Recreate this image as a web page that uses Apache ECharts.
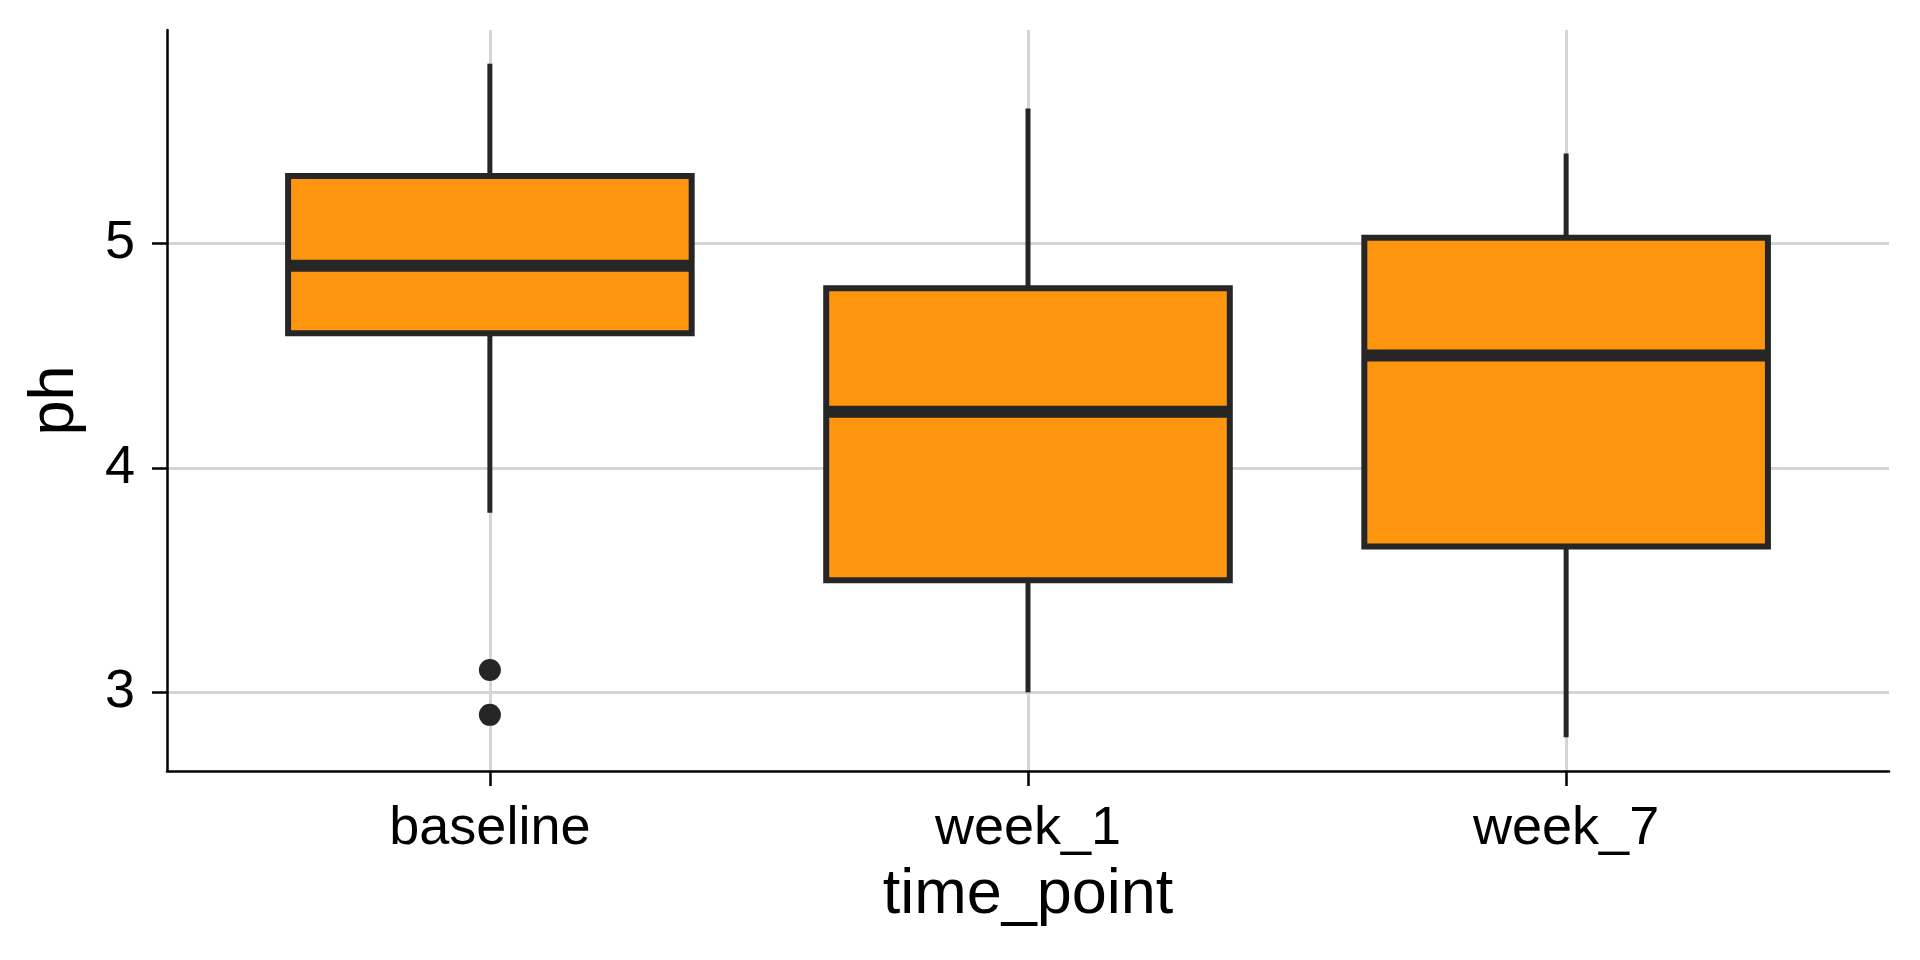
<!DOCTYPE html>
<html>
<head>
<meta charset="utf-8">
<title>ph by time_point</title>
<script src="https://cdn.jsdelivr.net/npm/echarts@6/dist/echarts.min.js"></script>
<style>
  html, body { margin: 0; padding: 0; background: #fff; }
  #chart { width: 1920px; height: 960px; }
</style>
</head>
<body>
<div id="chart"></div>
<script>
// Data
var categories = ['baseline', 'week_1', 'week_7'];
var whiskerLow = [3.8, 3.0, 2.8];
var q1 = [4.6, 3.5, 3.65];
var median = [4.9, 4.25, 4.5];
var q3 = [5.3, 4.8, 5.025];
var whiskerHigh = [5.8, 5.6, 5.4];
var outliers = [[1, 3.1], [1, 2.9]];
var yTicks = [3, 4, 5];

var LINE = '#262626';
var FILL = '#FE950F';
var GRID = '#d5d5d5';
var FONT = 'Liberation Sans, Arial, sans-serif';

document.addEventListener('DOMContentLoaded', function() {

  var chart = echarts.init(document.getElementById('chart'), null, {renderer: 'canvas'});

  // one row per box: [x, low, q1, median, q3, high]
  var boxData = categories.map(function(name, i) {
    return [i + 1, whiskerLow[i], q1[i], median[i], q3[i], whiskerHigh[i]];
  });
  var xTicks = categories.map(function(name, i) { return i + 1; });

  // box, whiskers and a thick median line, all placed through the axes
  function renderBox(params, api) {
    var x = api.value(0);
    var half = api.size([0.75, 0])[0] / 2;
    var pLow = api.coord([x, api.value(1)]);
    var pQ1 = api.coord([x, api.value(2)]);
    var pMed = api.coord([x, api.value(3)]);
    var pQ3 = api.coord([x, api.value(4)]);
    var pHigh = api.coord([x, api.value(5)]);
    return {
      type: 'group',
      children: [
        {
          type: 'line',
          shape: {x1: pQ3[0], y1: pQ3[1], x2: pHigh[0], y2: pHigh[1]},
          style: {stroke: LINE, lineWidth: 5}
        },
        {
          type: 'line',
          shape: {x1: pQ1[0], y1: pQ1[1], x2: pLow[0], y2: pLow[1]},
          style: {stroke: LINE, lineWidth: 5}
        },
        {
          type: 'rect',
          shape: {x: pQ3[0] - half, y: pQ3[1], width: half * 2, height: pQ1[1] - pQ3[1]},
          style: {fill: FILL, stroke: LINE, lineWidth: 6}
        },
        {
          type: 'line',
          shape: {x1: pMed[0] - half, y1: pMed[1], x2: pMed[0] + half, y2: pMed[1]},
          style: {stroke: LINE, lineWidth: 12}
        }
      ]
    };
  }

  var option = {
    backgroundColor: '#ffffff',
    animation: false,
    grid: {left: 167, right: 31, top: 30, bottom: 189},
    xAxis: {
      type: 'value',
      min: 0.4,
      max: 3.6,
      name: 'time_point',
      nameLocation: 'middle',
      nameGap: 93,
      nameTextStyle: {fontSize: 63, color: '#000', fontFamily: FONT},
      axisLine: {onZero: false, lineStyle: {color: '#000', width: 2.5}},
      axisTick: {show: true, customValues: xTicks, length: 15, lineStyle: {color: '#000', width: 2.5}},
      axisLabel: {
        customValues: xTicks,
        margin: 31,
        fontSize: 54,
        color: '#000',
        fontFamily: FONT,
        formatter: function(v) { return categories[Math.round(v) - 1] || ''; }
      },
      splitLine: {show: true, lineStyle: {color: GRID, width: 3}}
    },
    yAxis: {
      type: 'value',
      min: 2.65,
      max: 5.95,
      name: 'ph',
      nameLocation: 'middle',
      nameGap: 80,
      nameTextStyle: {fontSize: 63, color: '#000', fontFamily: FONT},
      axisLine: {show: true, lineStyle: {color: '#000', width: 2.5}},
      axisTick: {show: true, customValues: yTicks, length: 15, lineStyle: {color: '#000', width: 2.5}},
      axisLabel: {
        customValues: yTicks,
        margin: 32,
        fontSize: 54,
        color: '#000',
        fontFamily: FONT
      },
      splitLine: {show: true, lineStyle: {color: GRID, width: 3}}
    },
    series: [
      {
        type: 'custom',
        renderItem: renderBox,
        data: boxData,
        encode: {x: 0, y: [1, 2, 3, 4, 5]},
        z: 3
      },
      {
        type: 'scatter',
        data: outliers,
        symbol: 'circle',
        symbolSize: 22,
        itemStyle: {color: LINE, opacity: 1},
        z: 4
      }
    ]
  };

  chart.setOption(option);
});
</script>
</body>
</html>
